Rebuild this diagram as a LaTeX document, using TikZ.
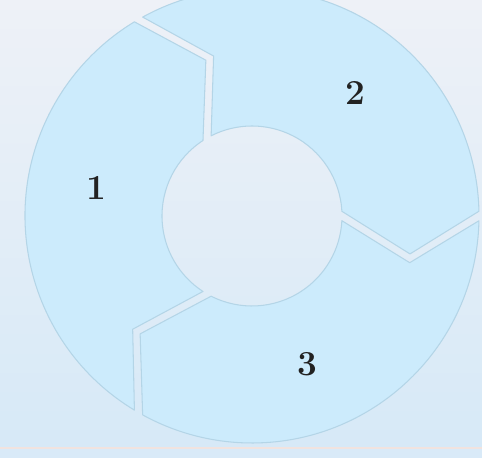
\documentclass[tikz,border=0pt]{standalone}
\usepackage{tikz}

\definecolor{bgtop}{HTML}{EEF1F7}
\definecolor{bgbot}{HTML}{D6E9F7}
\definecolor{segfill}{HTML}{CCEBFC}
\definecolor{segline}{HTML}{B4D5E7}
\definecolor{stripfill}{HTML}{D9EAF8}
\definecolor{stripline}{HTML}{F1E3DF}
\definecolor{numcol}{HTML}{222222}

\tikzset{
  seg/.style={fill=segfill, draw=segline, line width=0.6pt},
  num/.style={font=\fontsize{20}{24}\selectfont\bfseries, text=numcol}
}

\begin{document}
\begin{tikzpicture}[scale=1, line cap=round, line join=round]

\useasboundingbox (-5.04,-4.84) rectangle (4.60,4.32);
\shade[top color=bgtop, bottom color=bgbot] (-5.04,-4.84) rectangle (4.60,4.32);
\fill[stripfill] (-5.04,-4.84) rectangle (4.60,-4.64);
\draw[stripline, line width=0.6pt, line cap=butt] (-5.04,-4.64) -- (4.60,-4.64);

% three arrow segments of the ring
\foreach \b in {0,120,240}
  \draw[seg] (\b+1.2:4.54) -- (\b-13.5:3.25) -- (\b+3.0:1.80)
    arc[start angle=\b+3.0, end angle=\b+117.0, radius=1.80]
    -- (\b+103.5:3.29) -- (\b+118.8:4.54)
    arc[start angle=\b+118.8, end angle=\b+1.2, radius=4.54] -- cycle;

\node[num] (n1) at (-3.12,0.56) {1};
\node[num] (n2) at (2.06,2.46) {2};
\node[num] (n3) at (1.10,-2.96) {3};

\end{tikzpicture}
\end{document}
